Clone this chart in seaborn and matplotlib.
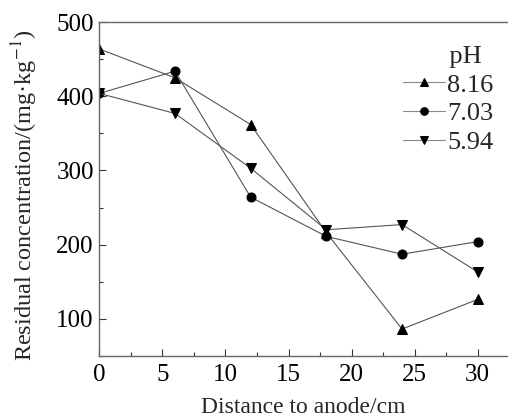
import pandas as pd
import matplotlib
matplotlib.use("Agg")
import matplotlib.pyplot as plt
from matplotlib.ticker import MultipleLocator
import seaborn as sns

distance = [0, 6, 12, 18, 24, 30]
ph_labels = ['8.16', '7.03', '5.94']
conc_816 = [464, 425, 362, 216, 86, 126]
conc_703 = [404, 434, 264, 211, 187, 204]
conc_594 = [404, 377, 303, 220, 227, 163]
markers = ['^', 'o', 'v']


def main():
    df = pd.DataFrame({
        'Distance': distance * 3,
        'Conc': conc_816 + conc_703 + conc_594,
        'pH': [ph_labels[0]] * 6 + [ph_labels[1]] * 6 + [ph_labels[2]] * 6,
    })

    sns.set_style('ticks')
    plt.rcParams['font.family'] = ['Liberation Serif', 'DejaVu Serif']
    plt.rcParams['mathtext.fontset'] = 'stix'

    fig = plt.figure(figsize=(5.08, 4.18), dpi=100)
    ax = fig.add_axes([0.1955, 0.149, 0.8045, 0.7977])

    sns.lineplot(data=df, x='Distance', y='Conc', hue='pH', style='pH',
                 hue_order=ph_labels, style_order=ph_labels,
                 palette=['#555555'] * 3, markers=markers, dashes=False,
                 linewidth=0.8, markersize=6.5, legend=False, ax=ax)

    for line, lab in zip(ax.lines, ph_labels):
        line.set_markerfacecolor('black')
        line.set_markeredgecolor('black')
        line.set_label(lab)

    ax.set_xlim(0, 32.4)
    ax.set_ylim(50, 500)
    ax.xaxis.set_major_locator(MultipleLocator(5))
    ax.xaxis.set_minor_locator(MultipleLocator(2.5))
    ax.yaxis.set_major_locator(MultipleLocator(100))
    ax.yaxis.set_minor_locator(MultipleLocator(50))
    ax.tick_params(which='both', direction='in', labelsize=18, colors='#333333',
                   labelcolor='black')
    ax.tick_params(which='major', length=5, width=0.8, pad=4)
    ax.tick_params(axis='x', which='major', pad=6)
    ax.tick_params(which='minor', length=3, width=0.8)
    ax.spines['right'].set_visible(False)
    for s in ['left', 'bottom', 'top']:
        ax.spines[s].set_color('#666666')
        ax.spines[s].set_linewidth(1.0)

    ax.set_xlabel('Distance to anode/cm', fontsize=17, labelpad=8)
    ax.set_ylabel('Residual concentration/(mg·kg$^{-1}$)', fontsize=17.5)
    ax.yaxis.set_label_coords(-0.145, 0.482)

    # title sits over the label column, so pad it from the left
    leg = ax.legend(handles=ax.lines, labels=ph_labels, title='       pH', fontsize=19,
                    title_fontsize=19, frameon=False, loc='upper right',
                    bbox_to_anchor=(1.01, 0.985), handlelength=1.6,
                    handletextpad=0.08, labelspacing=0.2, borderpad=0.2,
                    alignment='left')
    for h in leg.legend_handles:
        h.set_markersize(5.5)
        h.set_color('#888888')
        h.set_markerfacecolor('black')
        h.set_markeredgecolor('black')

    fig.savefig('out.png', dpi=100)


if __name__ == '__main__':
    main()
